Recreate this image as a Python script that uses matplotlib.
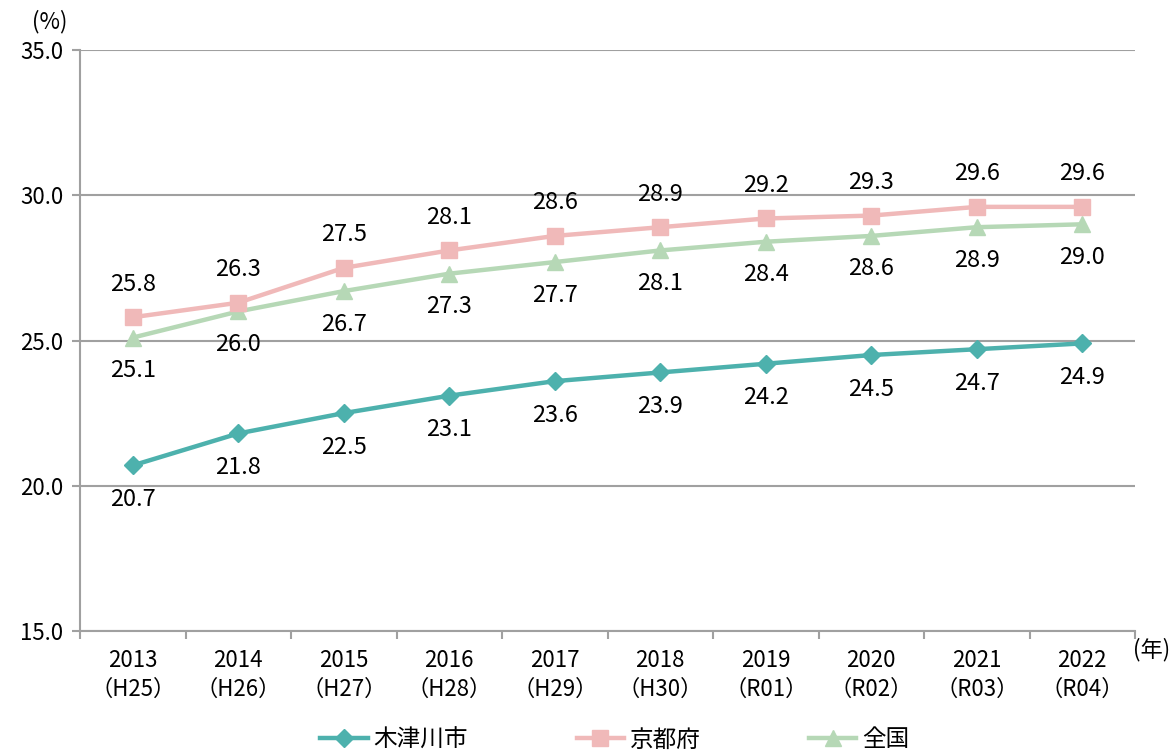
import matplotlib
matplotlib.use("Agg")
import matplotlib.pyplot as plt
from matplotlib.ticker import FixedLocator, NullFormatter

plt.rcParams['font.family'] = ['Noto Sans CJK JP', 'DejaVu Sans']

years = ["2013", "2014", "2015", "2016", "2017", "2018", "2019", "2020", "2021", "2022"]
eras = ["H25", "H26", "H27", "H28", "H29", "H30", "R01", "R02", "R03", "R04"]
kizugawa = [20.7, 21.8, 22.5, 23.1, 23.6, 23.9, 24.2, 24.5, 24.7, 24.9]
kyoto = [25.8, 26.3, 27.5, 28.1, 28.6, 28.9, 29.2, 29.3, 29.6, 29.6]
national = [25.1, 26.0, 26.7, 27.3, 27.7, 28.1, 28.4, 28.6, 28.9, 29.0]
series_names = ["木津川市", "京都府", "全国"]
yticks = [15.0, 20.0, 25.0, 30.0, 35.0]

c_teal = "#4DB1AD"
c_pink = "#F0B9B9"
c_green = "#B6D8B6"

fig = plt.figure(figsize=(11.74, 7.51), dpi=100)
ax = fig.add_axes([80/1174, 1-631/751, (1135-80)/1174, (631-50)/751])

x = list(range(len(years)))
ax.plot(x, kizugawa, color=c_teal, lw=3.2, marker="D", ms=9, label=series_names[0], zorder=5)
ax.plot(x, kyoto, color=c_pink, lw=3.2, marker="s", ms=11, label=series_names[1], zorder=4)
ax.plot(x, national, color=c_green, lw=3.2, marker="^", ms=12, label=series_names[2], zorder=3)

fs = 17
for xi, v in zip(x, kizugawa):
    ax.annotate(f"{v:.1f}", (xi, v), xytext=(0, -34), textcoords="offset pixels",
                ha="center", va="center", fontsize=fs)
for xi, v in zip(x, kyoto):
    ax.annotate(f"{v:.1f}", (xi, v), xytext=(0, 33), textcoords="offset pixels",
                ha="center", va="center", fontsize=fs)
for xi, v in zip(x, national):
    ax.annotate(f"{v:.1f}", (xi, v), xytext=(0, -33), textcoords="offset pixels",
                ha="center", va="center", fontsize=fs)

ax.set_xlim(-0.5, len(years) - 0.5)
ax.set_ylim(15, 35)
ax.set_yticks(yticks)
ax.set_yticklabels([f"{t:.1f}" for t in yticks], fontsize=16)
ax.yaxis.grid(True, color="#A0A0A0", lw=1.5)
ax.set_axisbelow(True)

ax.xaxis.set_major_locator(FixedLocator([i - 0.5 for i in range(len(years) + 1)]))
ax.xaxis.set_major_formatter(NullFormatter())
ax.xaxis.set_minor_locator(FixedLocator(x))
ax.set_xticklabels([f"{y}\n（{e}）" for y, e in zip(years, eras)], minor=True, fontsize=16,
                   linespacing=1.3)
ax.tick_params(axis="x", which="minor", length=0, pad=13)
ax.tick_params(axis="x", which="major", length=6, color="#A0A0A0", width=1.5)
ax.tick_params(axis="y", length=6, color="#A0A0A0", width=1.5, pad=6)

for s in ["top", "right"]:
    ax.spines[s].set_visible(False)
for s in ["left", "bottom"]:
    ax.spines[s].set_color("#A0A0A0")
    ax.spines[s].set_linewidth(1.5)

fig.text(50/1174, 1-22/751, "(%)", fontsize=16, ha="center", va="center")
fig.text(1152/1174, 1-650/751, "(年)", fontsize=16, ha="center", va="center")

leg = fig.legend(loc="center", bbox_to_anchor=(615/1174, 1-740/751), ncol=3, frameon=False,
                 fontsize=17, handlelength=2.0, handletextpad=0.25, columnspacing=4.6)

fig.savefig("out.png", dpi=100)
